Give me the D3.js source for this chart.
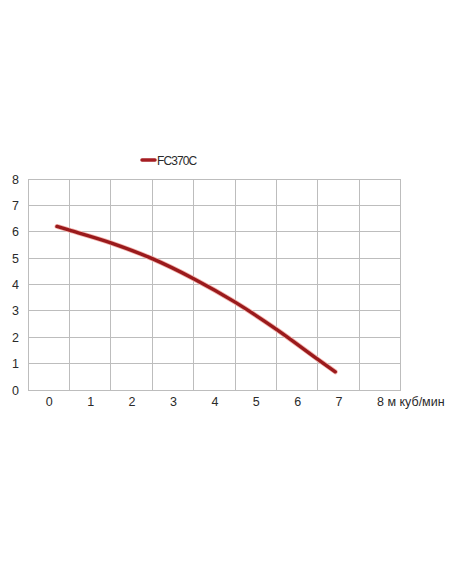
<!DOCTYPE html>
<html><head><meta charset="utf-8">
<script src="https://cdn.jsdelivr.net/npm/d3@7"></script>
<style>body{margin:0;background:#fff}svg{display:block}</style>
</head><body>
<script>
const seriesName = "FC370C";
const xTickLabels = ["0","1","2","3","4","5","6","7","8 м куб/мин"];
const yTicks = [0,1,2,3,4,5,6,7,8];
const flow = [0.2, 0.5, 1.5, 2.5, 3.5, 4.5, 5.5, 6.5, 6.92];
const head = [6.2, 6.06, 5.58, 4.98, 4.22, 3.33, 2.3, 1.16, 0.69];

const W = 452, H = 584;
const svg = d3.select("body").append("svg").attr("width", W).attr("height", H);
const x = d3.scaleLinear().domain([-0.5, 8.5]).range([28, 400.7]);
const y = d3.scaleLinear().domain([0, 8]).range([390, 179]);
const font = "'Liberation Sans', Arial, sans-serif";

const grid = svg.append("g").attr("stroke", "#bdbdbd").attr("stroke-width", 1).attr("shape-rendering","crispEdges");
const vLines = d3.range(-0.5, 8.6, 1);
grid.selectAll("line.v").data(vLines).join("line").attr("class","v")
  .attr("x1", d => x(d)).attr("x2", d => x(d)).attr("y1", y(0)).attr("y2", y(8));
grid.selectAll("line.h").data(yTicks).join("line").attr("class","h")
  .attr("x1", x(-0.5)).attr("x2", x(8.5)).attr("y1", d => y(d)).attr("y2", d => y(d));

// Y axis labels
const yAxis = svg.append("g").attr("transform", `translate(${x(-0.5)},0)`)
  .call(d3.axisLeft(y).tickValues(yTicks).tickSize(0).tickPadding(9).tickFormat(d3.format("d")));
yAxis.select(".domain").remove();
yAxis.selectAll("text").attr("font-family", font).attr("font-size", 12.5).attr("fill", "#2a2a2a");

// X axis labels
const xAxis = svg.append("g").attr("transform", `translate(0,${y(0)})`)
  .call(d3.axisBottom(x).tickValues(d3.range(0, 9)).tickSize(0).tickPadding(7).tickFormat(i => xTickLabels[i]));
xAxis.select(".domain").remove();
xAxis.selectAll("text").attr("font-family", font).attr("font-size", 12.5).attr("fill", "#2a2a2a")
  .attr("text-anchor", (d, i) => i === 8 ? "start" : "middle")
  .attr("dx", (d, i) => i === 8 ? -3.5 : 0);

// Curve
const pts = flow.map((f, i) => [f, head[i]]);
const line = d3.line().x(d => x(d[0])).y(d => y(d[1])).curve(d3.curveCatmullRom.alpha(0.5));
svg.append("path").datum(pts).attr("d", line).attr("fill", "none")
  .attr("stroke", "#f2b3ad").attr("stroke-width", 5).attr("stroke-linecap", "round");
svg.append("path").datum(pts).attr("d", line).attr("fill", "none")
  .attr("stroke", "#9a1a1c").attr("stroke-width", 3.4).attr("stroke-linecap", "round");

// Legend
svg.append("line").attr("x1", 142).attr("x2", 155).attr("y1", 160).attr("y2", 160)
  .attr("stroke", "#a51d22").attr("stroke-width", 3.5).attr("stroke-linecap", "round");
svg.append("text").attr("x", 157).attr("y", 164.5).text(seriesName)
  .attr("font-family", font).attr("font-size", 12).attr("letter-spacing", -0.9).attr("fill", "#2a2a2a");
</script>
</body></html>
